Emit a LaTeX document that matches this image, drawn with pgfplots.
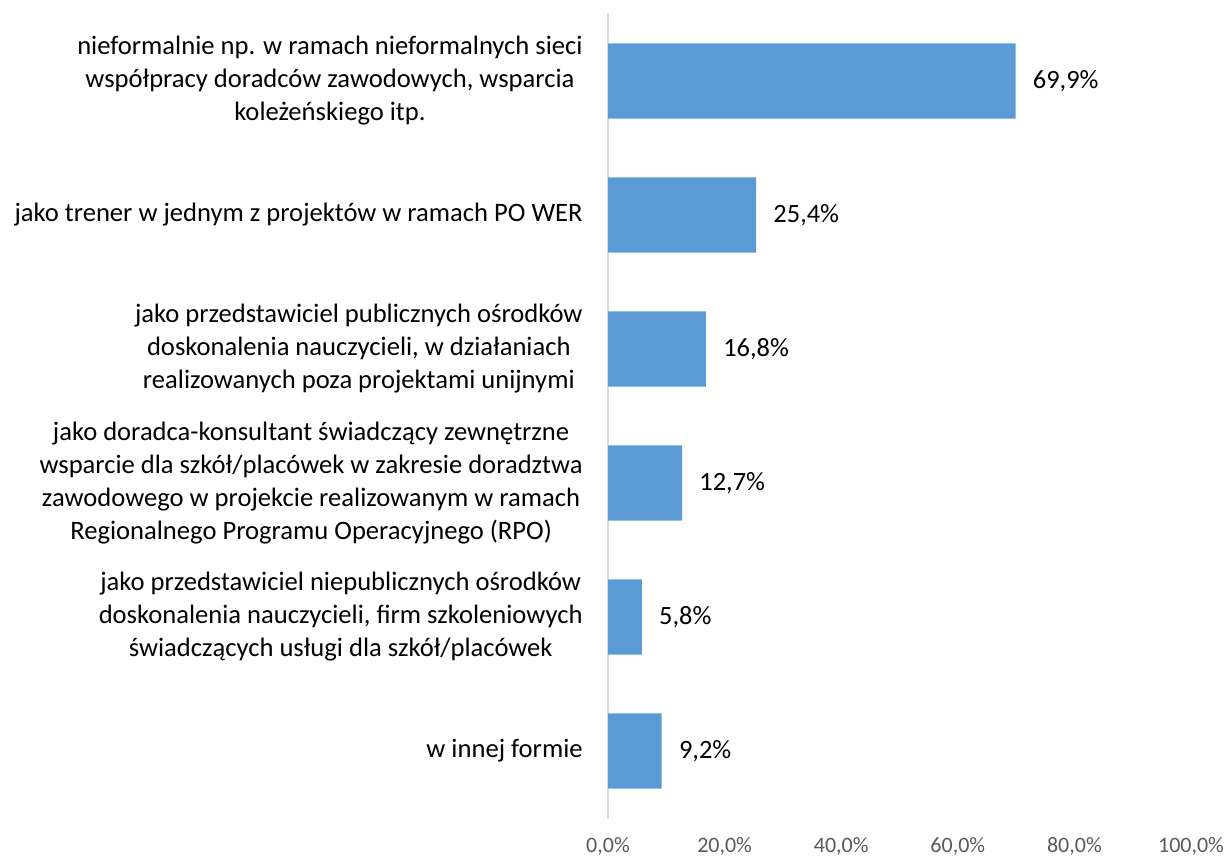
\documentclass[border=0pt]{standalone}
\usepackage{fontspec}
\setmainfont{Carlito}
\usepackage{pgfplots}
\pgfplotsset{compat=1.18}
\definecolor{barblue}{HTML}{5B9BD5}
\definecolor{axisgray}{HTML}{D9D9D9}
\definecolor{tickgray}{HTML}{595959}
\begin{document}
\begin{tikzpicture}
\path[use as bounding box] (0,0) rectangle (615pt,428.5pt);
\begin{axis}[
  at={(304pt,19.5pt)}, anchor=south west,
  scale only axis, width=291.5pt, height=402pt,
  xbar, bar width=0.56,
  xmin=0, xmax=100, ymin=-0.5, ymax=5.5, y dir=reverse,
  axis x line*=bottom, axis y line*=left,
  x axis line style={draw=none},
  y axis line style={draw=axisgray, line width=0.9pt},
  major tick length=0,
  xtick={0,20,40,60,80,100},
  ytick={0,1,2,3,4,5},
  /pgf/number format/assume math mode=true,
  xticklabel={\pgfmathprintnumber[fixed,fixed zerofill,precision=1,use comma]{\tick}\%},
  xticklabel style={font=\fontsize{11}{13}\selectfont, text=tickgray, anchor=center, yshift=-14.3pt, inner sep=0pt},
  yticklabels={
    {nieformalnie np. w ramach nieformalnych sieci\\współpracy doradców zawodowych, wsparcia\\koleżeńskiego itp.},
    {jako trener w jednym z projektów w ramach PO WER},
    {jako przedstawiciel publicznych ośrodków\\doskonalenia nauczycieli, w działaniach\\realizowanych poza projektami unijnymi},
    {jako doradca-konsultant świadczący zewnętrzne\\wsparcie dla szkół/placówek w zakresie doradztwa\\zawodowego w projekcie realizowanym w ramach\\Regionalnego Programu Operacyjnego (RPO)},
    {jako przedstawiciel niepublicznych ośrodków\\doskonalenia nauczycieli, firm szkoleniowych\\świadczących usługi dla szkół/placówek},
    {w innej formie}
  },
  yticklabel style={font=\fontsize{13.3}{16.5}\selectfont, align=center, anchor=east, inner sep=0pt, xshift=-12.5pt},
  nodes near coords={\pgfmathprintnumber[fixed,fixed zerofill,precision=1,use comma,assume math mode=true]{\pgfplotspointmeta}\%},
  nodes near coords style={font=\fontsize{13.2}{15}\selectfont, anchor=west, inner sep=0pt, xshift=8.5pt},
  point meta=explicit,
]
\addplot[fill=barblue, draw=none] coordinates {
  (69.9,0) [69.9]
  (25.4,1) [25.4]
  (16.8,2) [16.8]
  (12.7,3) [12.7]
  (5.8,4) [5.8]
  (9.2,5) [9.2]
};
\end{axis}
\end{tikzpicture}
\end{document}
